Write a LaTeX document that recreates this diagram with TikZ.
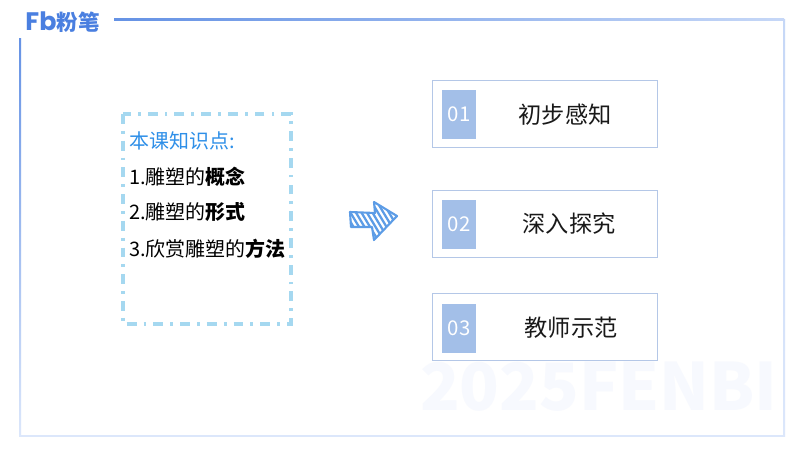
\documentclass[tikz,border=0pt]{standalone}
\usepackage{fontspec}
\setmainfont{Noto Sans CJK SC}
\setsansfont{Noto Sans CJK SC}
\newfontfamily\logofont{Poppins}
\definecolor{logoblue}{HTML}{4A7FE0}
\definecolor{paleblue}{HTML}{DCE7FB}
\definecolor{dashblue}{HTML}{A5D8F0}
\definecolor{titleblue}{HTML}{2E8FE8}
\definecolor{itemline}{HTML}{B4C7E7}
\definecolor{itemfill}{HTML}{A3BFE8}
\definecolor{arrowblue}{HTML}{5C9CE6}
\definecolor{markgray}{HTML}{F7F9FE}
\tikzset{
  itembox/.style={draw=itemline,line width=0.6pt,fill=white,minimum width=225*0.025cm,minimum height=67*0.025cm,inner sep=0pt},
  itemnum/.style={fill=itemfill,text=white,minimum width=34*0.025cm,minimum height=49*0.025cm,inner sep=0pt,font=\fontsize{14.5}{16}\selectfont},
  itemtext/.style={text=black!90,inner sep=0pt,font=\fontsize{16.5}{18}\selectfont},
  pointline/.style={anchor=west,inner sep=0pt,font=\fontsize{14.2}{16}\selectfont}
}
\begin{document}
\begin{tikzpicture}[x=0.025cm,y=-0.025cm]
    \useasboundingbox (0,0) rectangle (800,450);
    \fill[white] (0,0) rectangle (800,450);
    \node[inner sep=0pt,text=markgray,font=\fontsize{46.4}{50}\bfseries\selectfont] (mark) at (599,387) {2025FENBI};
    \shade[left color=logoblue!85,right color=paleblue!85!logoblue] (114,18) rectangle (784,20);
    \shade[top color=paleblue!85!logoblue,bottom color=paleblue] (783,19) rectangle (785,436);
    \shade[top color=logoblue!85,bottom color=paleblue] (19,38) rectangle (21,436);
    \fill[paleblue] (19,435) rectangle (785,437);
    \node[inner sep=0pt,text=logoblue,font=\logofont\fontsize{18}{20}\bfseries\selectfont] (logomark) at (41,21) {Fb};
    \node[inner sep=0pt,text=logoblue,font=\fontsize{15.3}{17}\bfseries\selectfont] (logoname) at (78.5,22) {粉笔};
    \draw[dashblue,line width=2.4pt,dash pattern=on 7pt off 5pt on 2pt off 5pt] (123,114) rectangle (291,324);
    \node[pointline,text=titleblue] (title) at (129,141) {本课知识点:};
    \node[pointline] (pointa) at (129,177) {1.雕塑的\textbf{概念}};
    \node[pointline] (pointb) at (129,212) {2.雕塑的\textbf{形式}};
    \node[pointline] (pointc) at (129,249) {3.欣赏雕塑的\textbf{方法}};
    \begin{scope}
        \clip (350,212) -- (375,213) -- (374,202) -- (397,216) -- (374,240) -- (372,227) -- (351,227) -- cycle;
        \foreach \i in {0,1,...,11}
            \draw[arrowblue,line width=1.6pt] (335+5.5*\i,196) -- (365+5.5*\i,246);
    \end{scope}
    \draw[arrowblue,line width=1.5pt,line join=round] (350,212) -- (375,213) -- (374,202) -- (397,216) -- (374,240) -- (372,227) -- (351,227) -- cycle;
    \node[itembox] (boxa) at (544.5,113.5) {};
    \node[itembox] (boxb) at (544.5,223.5) {};
    \node[itembox] (boxc) at (544.5,326.5) {};
    \node[itemnum] (numa) at (459,114.5) {01};
    \node[itemnum] (numb) at (459,224.5) {02};
    \node[itemnum] (numc) at (459,328.5) {03};
    \node[itemtext] (texta) at (565,115) {初步感知};
    \node[itemtext] (textb) at (569,224) {深入探究};
    \node[itemtext] (textc) at (571,328) {教师示范};
\end{tikzpicture}
\end{document}
